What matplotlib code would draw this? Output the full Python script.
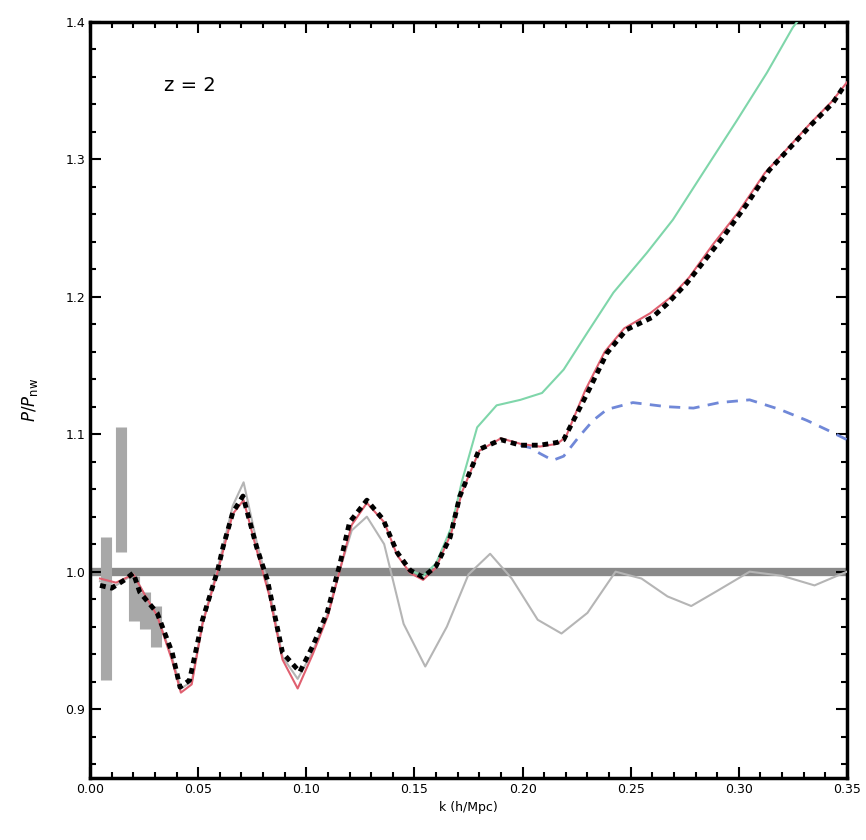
import numpy as np
import matplotlib.pyplot as plt
from matplotlib.ticker import MultipleLocator, FormatStrFormatter

# main measurement (black dashed)
k_data = [0.0046, 0.010, 0.016, 0.020, 0.023, 0.031, 0.038, 0.0416, 0.046, 0.052,
          0.059, 0.0615, 0.066, 0.0707, 0.077, 0.082, 0.089, 0.097, 0.103, 0.1096,
          0.1156, 0.120, 0.128, 0.1355, 0.142, 0.148, 0.154, 0.160, 0.1665, 0.171,
          0.180, 0.190, 0.199, 0.208, 0.216, 0.219, 0.230, 0.239, 0.248, 0.260,
          0.267, 0.276, 0.287, 0.293, 0.304, 0.314, 0.324, 0.334, 0.3435, 0.349]
p_data = [0.990, 0.988, 0.994, 0.999, 0.985, 0.970, 0.941, 0.916, 0.921, 0.965,
          1.001, 1.018, 1.043, 1.055, 1.018, 0.994, 0.941, 0.927, 0.946, 0.970,
          1.006, 1.036, 1.052, 1.038, 1.014, 1.001, 0.996, 1.004, 1.025, 1.055,
          1.089, 1.096, 1.092, 1.092, 1.094, 1.096, 1.130, 1.159, 1.176, 1.185,
          1.195, 1.210, 1.232, 1.244, 1.268, 1.292, 1.309, 1.326, 1.341, 1.354]

# red model
k_red = [0.0046, 0.012, 0.020, 0.025, 0.031, 0.038, 0.042, 0.047, 0.052, 0.059,
         0.066, 0.071, 0.077, 0.083, 0.089, 0.096, 0.103, 0.110, 0.116, 0.121,
         0.128, 0.136, 0.142, 0.148, 0.154, 0.160, 0.167, 0.172, 0.180, 0.190,
         0.199, 0.208, 0.216, 0.220, 0.229, 0.238, 0.247, 0.259, 0.268, 0.277,
         0.288, 0.300, 0.312, 0.322, 0.333, 0.343, 0.350]
p_red = [0.995, 0.992, 0.998, 0.984, 0.968, 0.935, 0.912, 0.918, 0.962, 1.000,
         1.042, 1.052, 1.016, 0.982, 0.936, 0.915, 0.940, 0.968, 1.004, 1.034,
         1.050, 1.036, 1.012, 0.999, 0.994, 1.003, 1.028, 1.058, 1.088, 1.097,
         1.093, 1.091, 1.093, 1.098, 1.132, 1.160, 1.177, 1.188, 1.199, 1.214,
         1.238, 1.262, 1.290, 1.307, 1.326, 1.342, 1.356]

# green model
k_green = [0.148, 0.154, 0.160, 0.167, 0.172, 0.179, 0.188, 0.199, 0.209, 0.219,
           0.230, 0.242, 0.2575, 0.2695, 0.2834, 0.299, 0.313, 0.325, 0.327]
p_green = [1.001, 0.997, 1.006, 1.032, 1.066, 1.105, 1.121, 1.125, 1.130, 1.147,
           1.174, 1.203, 1.232, 1.256, 1.290, 1.328, 1.363, 1.396, 1.400]

# blue dashed model
k_blue = [0.199, 0.204, 0.208, 0.214, 0.219, 0.226, 0.2326, 0.239, 0.251, 0.2667,
          0.279, 0.291, 0.305, 0.319, 0.3315, 0.341, 0.350]
p_blue = [1.092, 1.090, 1.086, 1.081, 1.084, 1.098, 1.110, 1.118, 1.123, 1.120,
          1.119, 1.123, 1.125, 1.118, 1.110, 1.103, 1.096]

# gray linear wiggles
k_lin = [0.0046, 0.012, 0.020, 0.025, 0.031, 0.038, 0.042, 0.047, 0.052, 0.059,
         0.066, 0.071, 0.077, 0.083, 0.089, 0.096, 0.103, 0.110, 0.116, 0.121,
         0.128, 0.136, 0.145, 0.155, 0.165, 0.175, 0.185, 0.195, 0.207, 0.218,
         0.230, 0.243, 0.255, 0.267, 0.278, 0.290, 0.305, 0.320, 0.335, 0.350]
p_lin = [0.993, 0.990, 0.998, 0.984, 0.968, 0.937, 0.915, 0.920, 0.963, 1.002,
         1.048, 1.065, 1.022, 0.986, 0.938, 0.922, 0.942, 0.970, 1.004, 1.030,
         1.040, 1.020, 0.962, 0.931, 0.960, 0.998, 1.013, 0.995, 0.965, 0.955,
         0.970, 1.000, 0.995, 0.982, 0.975, 0.986, 1.000, 0.997, 0.990, 1.000]

# low-k error boxes
k_err = [0.0074, 0.0143, 0.0203, 0.0255, 0.0305]
err_lo = [0.921, 1.014, 0.964, 0.958, 0.945]
err_hi = [1.025, 1.105, 0.997, 0.985, 0.975]

fig = plt.figure(figsize=(8.66, 8.40), dpi=100)
ax = fig.add_axes([0.104, 0.074, 0.874, 0.9])

ax.axhline(1.0, color='#8a8a8a', lw=6, zorder=1)
ax.vlines(k_err, err_lo, err_hi, color='#a8a8a8', lw=8, zorder=2)

ax.plot(k_lin, p_lin, color='#b5b5b5', lw=1.5, zorder=3)
ax.plot(k_green, p_green, color='#7fd6aa', lw=1.5, zorder=3)
ax.plot(k_blue, p_blue, color='#7088d8', lw=2, ls=(0, (4, 3)), zorder=3)
ax.plot(k_red, p_red, color='#e06070', lw=1.5, zorder=4)
ax.plot(k_data, p_data, color='black', lw=3.5, ls=(0, (1.2, 1.0)), zorder=5)

ax.set_xlim(0, 0.35)
ax.set_ylim(0.85, 1.4)
ax.xaxis.set_major_locator(MultipleLocator(0.05))
ax.xaxis.set_minor_locator(MultipleLocator(0.01))
ax.yaxis.set_major_locator(MultipleLocator(0.1))
ax.yaxis.set_minor_locator(MultipleLocator(0.02))
ax.xaxis.set_major_formatter(FormatStrFormatter('%.2f'))
ax.yaxis.set_major_formatter(FormatStrFormatter('%.1f'))
ax.tick_params(which='both', direction='in', top=True, right=True, width=1.5)
ax.tick_params(which='major', length=8, labelsize=9)
ax.tick_params(which='minor', length=4)
for s in ax.spines.values():
    s.set_linewidth(2.5)

ax.set_xlabel('k (h/Mpc)', fontsize=9)
ax.set_ylabel(r'$P/P_{\rm nw}$', fontsize=12, labelpad=18)
ax.text(0.034, 1.354, 'z = 2', fontsize=14, va='center')

fig.savefig('out.png', dpi=100)
